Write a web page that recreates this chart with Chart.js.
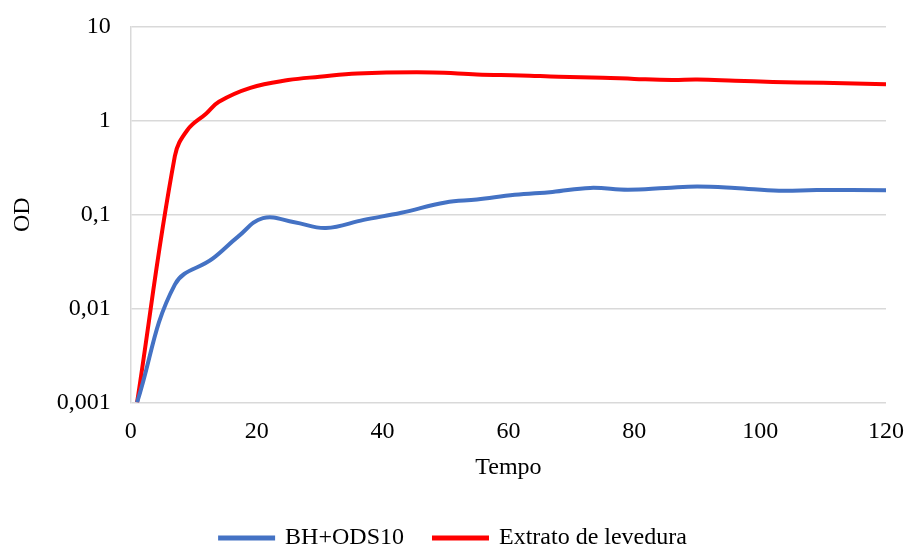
<!DOCTYPE html>
<html>
<head>
<meta charset="utf-8">
<script src="https://cdn.jsdelivr.net/npm/chart.js@4.4.0/dist/chart.umd.min.js"></script>
<style>
    html, body { margin: 0; padding: 0; background: #fff; }
    #wrap { width: 907px; height: 545px; }
</style>
</head>
<body>
<div id="wrap"><canvas id="graph"></canvas></div>
<script>
const blueTimes = [1, 7, 13, 17, 21, 26, 31, 37, 43, 50, 55, 61, 67, 73, 79, 85, 90, 96, 103, 109, 120];
const blueOD = [0.001, 0.018, 0.034, 0.058, 0.092, 0.083, 0.072, 0.088, 0.105, 0.135, 0.145, 0.163, 0.175, 0.193, 0.185, 0.193, 0.2, 0.193, 0.18, 0.183, 0.182];

const redTimes = [1, 7, 9, 12, 14, 19, 25, 30, 36, 48, 55, 62, 68, 75, 80, 86, 90, 96, 102, 110, 120];
const redOD = [0.001, 0.42, 0.8, 1.2, 1.6, 2.25, 2.72, 2.95, 3.2, 3.28, 3.12, 3.05, 2.95, 2.88, 2.8, 2.73, 2.76, 2.68, 2.6, 2.54, 2.46];

const yTicks = [0.001, 0.01, 0.1, 1, 10];
const yTickLabels = ['0,001', '0,01', '0,1', '1', '10'];

const font = 'Liberation Serif';
const toPoints = (xs, ys) => xs.map((x, i) => ({ x: x, y: ys[i] }));

Chart.defaults.font.family = font;
Chart.defaults.color = '#000';

const ctx = document.getElementById('graph').getContext('2d');

const myChart = new Chart(ctx, {
    type: 'line',
    data: {
        datasets: [
            {
                label: 'BH+ODS10',
                data: toPoints(blueTimes, blueOD),
                borderColor: '#4472C4',
                backgroundColor: '#4472C4',
                borderWidth: 4,
                pointRadius: 0,
                tension: 0.4,
            },
            {
                label: 'Extrato de levedura',
                data: toPoints(redTimes, redOD),
                borderColor: '#FF0000',
                backgroundColor: '#FF0000',
                borderWidth: 4,
                pointRadius: 0,
                tension: 0.4,
            },
        ],
    },
    options: {
        responsive: true,
        maintainAspectRatio: false,
        animation: false,
        layout: {
            padding: { left: 0, right: 0, top: 0, bottom: -15 },
        },
        plugins: {
            legend: {
                position: 'bottom',
                labels: {
                    boxWidth: 53,
                    boxHeight: 1,
                    padding: 30,
                    font: { size: 24 },
                },
            },
            tooltip: { enabled: false },
        },
        scales: {
            x: {
                type: 'linear',
                min: 0,
                max: 120,
                afterFit: (axis) => {
                    axis.paddingRight = 21;
                },
                grid: { display: false },
                border: { display: false },
                ticks: {
                    stepSize: 20,
                    padding: 7,
                    font: { size: 24 },
                },
                title: {
                    display: true,
                    text: 'Tempo',
                    font: { size: 24, weight: 'normal' },
                    padding: { top: 0, bottom: 14 },
                },
            },
            y: {
                type: 'logarithmic',
                min: 0.001,
                max: 10,
                afterBuildTicks: (axis) => {
                    axis.ticks = yTicks.map((v) => ({ value: v }));
                },
                afterFit: (axis) => {
                    axis.paddingTop = 27;
                },
                grid: {
                    color: '#d9d9d9',
                    lineWidth: 1.5,
                    drawTicks: false,
                },
                border: { display: true, color: '#d9d9d9', width: 1.5 },
                ticks: {
                    padding: 20,
                    font: { size: 24 },
                    callback: function (val) {
                        const i = yTicks.indexOf(val);
                        return i >= 0 ? yTickLabels[i] : '';
                    },
                },
                title: {
                    display: true,
                    text: 'OD',
                    font: { size: 24, weight: 'normal' },
                    padding: { top: 8, bottom: 0 },
                },
            },
        },
    },
});
</script>
</body>
</html>
